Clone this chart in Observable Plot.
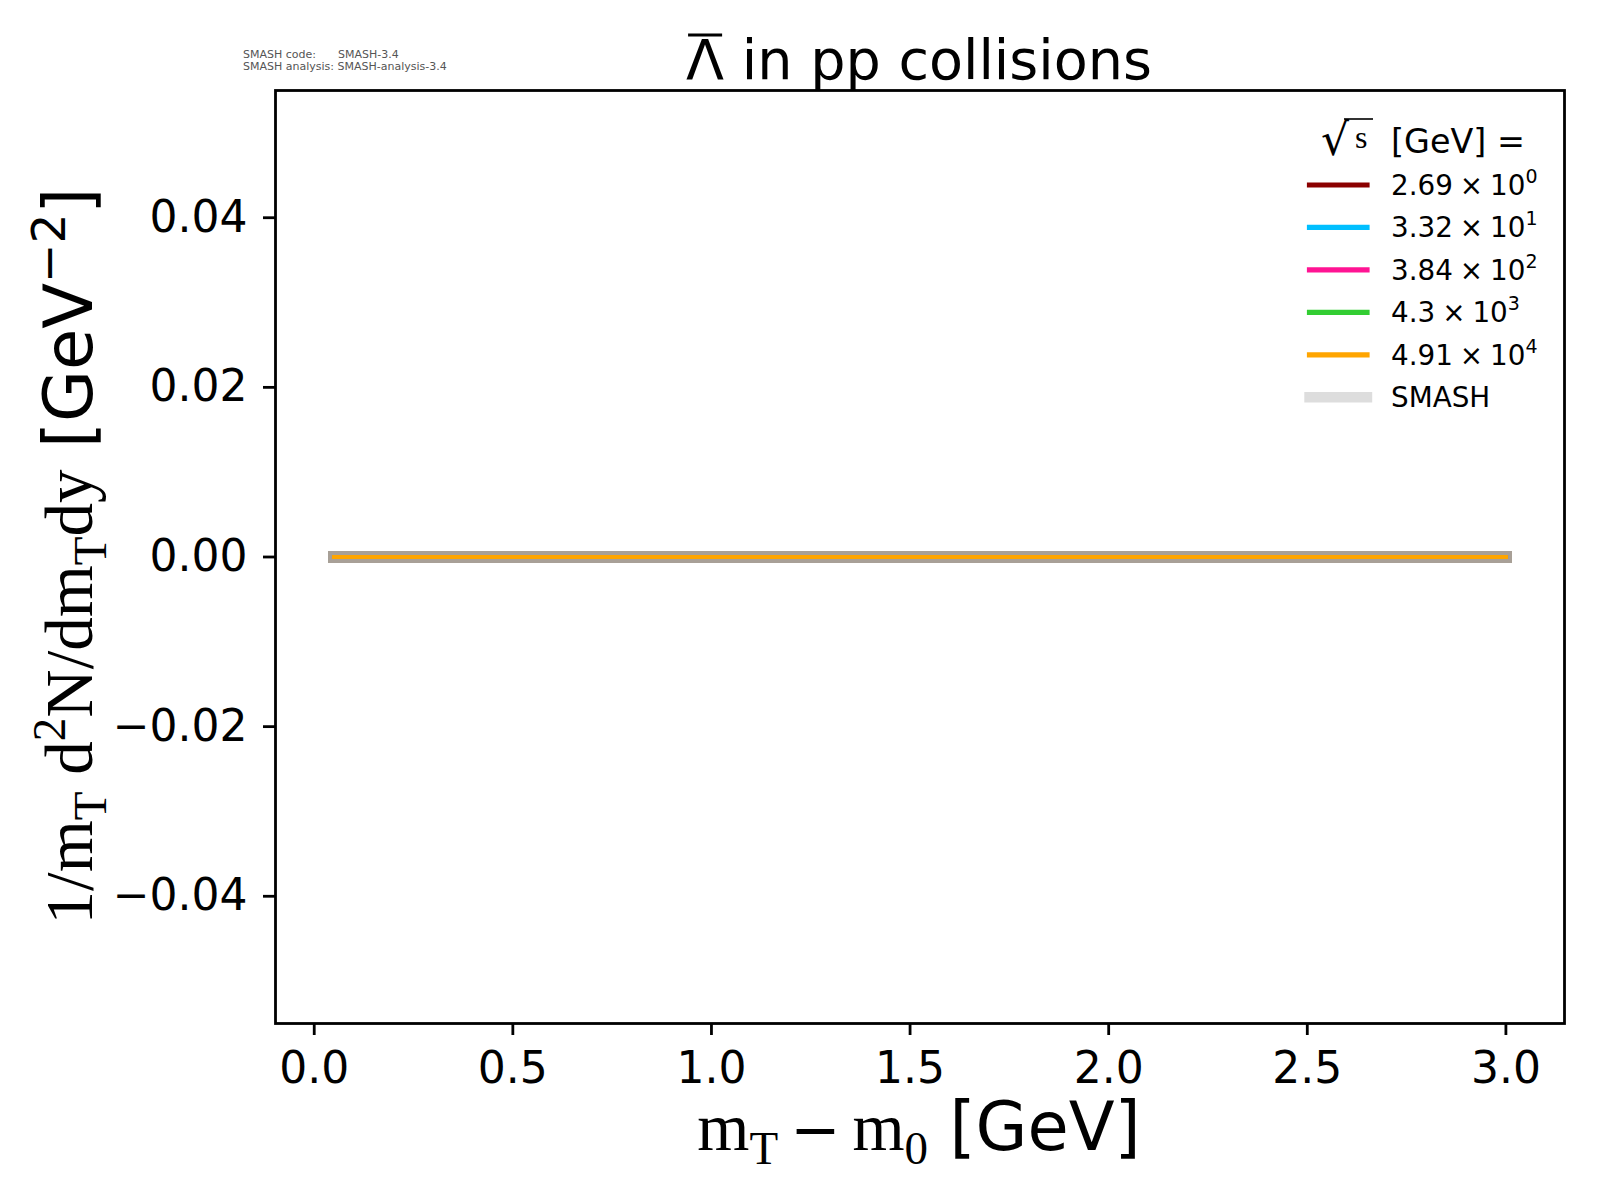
<!DOCTYPE html>
<html>
<head>
<meta charset="utf-8">
<script src="https://cdn.jsdelivr.net/npm/d3@7"></script>
<script src="https://cdn.jsdelivr.net/npm/@observablehq/plot@0.6"></script>
<style>
  body { margin: 0; background: #fff; }
  #chart { position: relative; width: 1600px; height: 1200px; }
</style>
</head>
<body>
<div id="chart"></div>
<script>
// ---- data ----
const mT = [0.05, 0.25, 0.5, 0.75, 1.0, 1.25, 1.5, 1.75, 2.0, 2.25, 2.5, 2.75, 3.0];
const energyMantissa = ["2.69", "3.32", "3.84", "4.3", "4.91"];
const energyExponent = ["0", "1", "2", "3", "4"];
const energyLabels = energyMantissa.map((m, i) => `${m} × 10^${energyExponent[i]}`);
const seriesColors = ["#8b0000", "#00bfff", "#ff1493", "#32cd32", "#ffa500"];
const yield_2p69 = [0, 0, 0, 0, 0, 0, 0, 0, 0, 0, 0, 0, 0];
const yield_33p2 = [0, 0, 0, 0, 0, 0, 0, 0, 0, 0, 0, 0, 0];
const yield_384 = [0, 0, 0, 0, 0, 0, 0, 0, 0, 0, 0, 0, 0];
const yield_4300 = [0, 0, 0, 0, 0, 0, 0, 0, 0, 0, 0, 0, 0];
const yield_49100 = [0, 0, 0, 0, 0, 0, 0, 0, 0, 0, 0, 0, 0];
const smashYield = [0, 0, 0, 0, 0, 0, 0, 0, 0, 0, 0, 0, 0];
const xTicks = [0.0, 0.5, 1.0, 1.5, 2.0, 2.5, 3.0];
const yTicks = [-0.04, -0.02, 0.0, 0.02, 0.04];

// ---- tables ----
const series = [yield_2p69, yield_33p2, yield_384, yield_4300, yield_49100];
const rows = energyLabels.flatMap((e, i) => mT.map((x, j) => ({x, y: series[i][j], energy: e})));
const smashRows = energyLabels.flatMap((e, i) => mT.map((x, j) => ({x, y: smashYield[j], energy: e})));

// matplotlib-like autoscale
const xmin = d3.min(mT), xmax = d3.max(mT), xpad = 0.05 * (xmax - xmin);
const xDomain = [xmin - xpad, xmax + xpad];
const yDomain = [-0.055, 0.055];

const chart = Plot.plot({
  width: 1600,
  height: 1200,
  marginLeft: 275,
  marginRight: 36,
  marginTop: 90,
  marginBottom: 177,
  x: {domain: xDomain},
  y: {domain: yDomain},
  color: {domain: energyLabels, range: seriesColors},
  style: {fontFamily: "DejaVu Sans", background: "white", color: "black", overflow: "visible"},
  marks: [
    Plot.line(smashRows, {x: "x", y: "y", z: "energy", stroke: "#a8a097", strokeWidth: 12, strokeLinecap: "square"}),
    Plot.line(rows, {x: "x", y: "y", z: "energy", stroke: "energy", strokeWidth: 4.2, strokeLinecap: "square"}),
    Plot.axisX({ticks: xTicks, tickFormat: d3.format(".1f"), tickSize: 12, tickPadding: 16, fontSize: 44, strokeWidth: 2.8, label: null}),
    Plot.axisY({ticks: yTicks, tickFormat: d3.format(".2f"), tickSize: 12, tickPadding: 16, fontSize: 44, strokeWidth: 2.8, label: null}),
    Plot.frame({stroke: "black", strokeWidth: 2.8})
  ]
});
document.getElementById("chart").appendChild(chart);

const svg = d3.select(chart);
const serif = "Liberation Serif";
const sans = "DejaVu Sans";

// title
const title = svg.append("text").attr("x", 919).attr("y", 79).attr("text-anchor", "middle")
  .attr("font-family", sans).attr("font-size", 55.6).attr("fill", "black");
title.append("tspan").text("Λ");
title.append("tspan").text(" in pp collisions");
{
  const n = title.node();
  const p0 = n.getStartPositionOfChar(0), p1 = n.getEndPositionOfChar(0);
  svg.append("line").attr("x1", p0.x + 2).attr("x2", p1.x - 2)
    .attr("y1", 79 - 44).attr("y2", 79 - 44).attr("stroke", "black").attr("stroke-width", 3.2);
}

// version stamp
const ver = svg.append("g").attr("font-family", sans).attr("font-size", 11).attr("fill", "#555").attr("text-anchor", "start");
ver.append("text").attr("x", 243).attr("y", 57.5).text("SMASH code:");
ver.append("text").attr("x", 338).attr("y", 57.5).text("SMASH-3.4");
ver.append("text").attr("x", 243).attr("y", 69.5).text("SMASH analysis: SMASH-analysis-3.4");

// x label
const xl = svg.append("text").attr("x", 919).attr("y", 1150).attr("text-anchor", "middle")
  .attr("font-family", serif).attr("font-size", 67).attr("fill", "black");
xl.append("tspan").text("m");
xl.append("tspan").attr("dy", 14).attr("font-size", 47).text("T");
xl.append("tspan").attr("dy", -14).attr("font-family", sans).attr("font-size", 60).text("\u2009−\u2009");
xl.append("tspan").text("m");
xl.append("tspan").attr("dy", 14).attr("font-size", 47).text("0");
xl.append("tspan").attr("dy", -14).attr("font-family", sans).text(" [GeV]");

// y label
const yl = svg.append("text").attr("transform", "translate(92,556) rotate(-90)").attr("text-anchor", "middle")
  .attr("font-family", serif).attr("font-size", 67).attr("fill", "black");
yl.append("tspan").text("1/m");
yl.append("tspan").attr("dy", 14).attr("font-size", 47).text("T");
yl.append("tspan").attr("dy", -14).text(" d");
yl.append("tspan").attr("dy", -27).attr("font-size", 47).text("2");
yl.append("tspan").attr("dy", 27).text("N/dm");
yl.append("tspan").attr("dy", 14).attr("font-size", 47).text("T");
yl.append("tspan").attr("dy", -14).text("dy");
yl.append("tspan").attr("font-family", sans).text(" [GeV");
yl.append("tspan").attr("dy", -27).attr("font-size", 47).attr("font-family", sans).text("−2");
yl.append("tspan").attr("dy", 27).attr("font-family", sans).text("]");

// legend
const lg = svg.append("g").attr("font-family", sans).attr("font-size", 27.8).attr("fill", "black").attr("text-anchor", "start");
// header: √s [GeV] =
lg.append("text").attr("x", 1321).attr("y", 155).attr("font-family", "DejaVu Serif").attr("font-size", 44).text("√");
lg.append("line").attr("x1", 1344).attr("x2", 1373).attr("y1", 119).attr("y2", 119).attr("stroke", "black").attr("stroke-width", 1.6);
lg.append("text").attr("x", 1355).attr("y", 148).attr("font-family", serif).attr("font-size", 32).text("s");
lg.append("text").attr("x", 1391).attr("y", 153).attr("font-size", 33.4).text("[GeV] =");
const rowY0 = 185, rowStep = 42.45;
energyMantissa.forEach((m, i) => {
  const cy = rowY0 + i * rowStep;
  lg.append("line").attr("x1", 1309.5).attr("x2", 1367).attr("y1", cy).attr("y2", cy)
    .attr("stroke", seriesColors[i]).attr("stroke-width", 5.2).attr("stroke-linecap", "square");
  const t = lg.append("text").attr("x", 1391).attr("y", cy + 10);
  t.append("tspan").text(`${m}\u2005×\u200510`);
  t.append("tspan").attr("dy", -12).attr("font-size", 19).text(energyExponent[i]);
});
{
  const cy = rowY0 + 5 * rowStep;
  lg.append("line").attr("x1", 1309.5).attr("x2", 1367).attr("y1", cy).attr("y2", cy)
    .attr("stroke", "#dddddd").attr("stroke-width", 10.4).attr("stroke-linecap", "square");
  lg.append("text").attr("x", 1391).attr("y", cy + 10).text("SMASH");
}
</script>
</body>
</html>
